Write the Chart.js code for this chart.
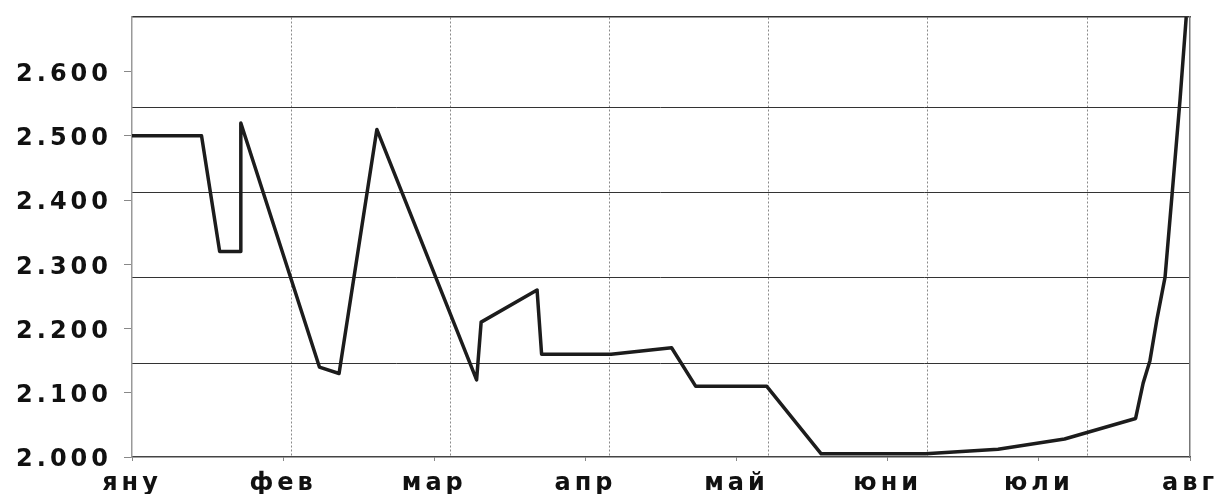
<!DOCTYPE html>
<html>
<head>
<meta charset="utf-8">
<script src="https://cdn.jsdelivr.net/npm/chart.js@4"></script>
<style>
    html, body { margin: 0; padding: 0; background: #fff; }
    #wrap { width: 1229px; height: 494px; position: relative; }
</style>
</head>
<body>
<div id="wrap"><canvas id="priceChart"></canvas></div>
<script>
// months on the x axis (0 = яну ... 7 = авг)
const monthLabels = ['яну', 'фев', 'мар', 'апр', 'май', 'юни', 'юли', 'авг'];
const yTickValues = [2.0, 2.1, 2.2, 2.3, 2.4, 2.5, 2.6];
const yTickLabels = ['2.000', '2.100', '2.200', '2.300', '2.400', '2.500', '2.600'];

// series, x in months from start of January
const pointMonths = [0, 0.46, 0.58, 0.72, 0.72, 1.24, 1.37, 1.62, 2.28, 2.31, 2.68, 2.71, 3.17, 3.57,
    3.73, 4.20, 4.56, 5.25, 5.73, 6.17, 6.64, 6.69, 6.735, 6.78, 6.835, 6.888, 6.934, 6.975];
const pointValues = [2.50, 2.50, 2.32, 2.32, 2.52, 2.14, 2.13, 2.51, 2.12, 2.21, 2.26, 2.16, 2.16, 2.17,
    2.11, 2.11, 2.005, 2.005, 2.012, 2.028, 2.06, 2.115, 2.15, 2.213, 2.28, 2.427, 2.556, 2.685];

// the scanned grid does not line up with the ticks, so it gets its own axes
const gridCols = [1, 2, 3, 4, 5, 6];
const gridRows = [1, 2, 3, 4];

const toTicks = arr => arr.map(v => ({ value: v }));

const spacing = {
    id: 'spacing',
    beforeDraw(chart) {
        chart.ctx.letterSpacing = '4px';
    }
};

const ctx = document.getElementById('priceChart').getContext('2d');

const priceChart = new Chart(ctx, {
    type: 'line',
    data: {
        datasets: [{
            data: pointMonths.map((m, i) => ({ x: m, y: pointValues[i] })),
            borderColor: '#1c1c1c',
            borderWidth: 3.5,
            borderJoinStyle: 'round',
            tension: 0,
            pointRadius: 0,
            xAxisID: 'x',
            yAxisID: 'y'
        }]
    },
    options: {
        responsive: true,
        maintainAspectRatio: false,
        animation: false,
        layout: { padding: { top: 17, right: 39, left: 0, bottom: 0 } },
        plugins: {
            legend: { display: false },
            tooltip: { enabled: false }
        },
        scales: {
            x: {
                type: 'linear',
                position: 'bottom',
                min: 0,
                max: 7,
                afterBuildTicks: s => { s.ticks = toTicks(monthLabels.map((l, i) => i)); },
                afterFit: s => { s.height = 37; s.paddingLeft = 0; s.paddingRight = 0; },
                grid: { drawOnChartArea: false, tickLength: 4, color: '#888' },
                border: { color: '#444', width: 1.5 },
                ticks: {
                    autoSkip: false,
                    maxRotation: 0,
                    padding: 8,
                    color: '#111',
                    font: { family: 'DejaVu Sans', size: 24, weight: 'bold' },
                    callback: v => monthLabels[v]
                }
            },
            x2: {
                type: 'linear',
                position: 'top',
                min: 0,
                max: 6.646,
                afterBuildTicks: s => { s.ticks = toTicks(gridCols); },
                afterFit: s => { s.height = 0; s.paddingLeft = 0; s.paddingRight = 0; },
                grid: { color: '#8a8a8a', lineWidth: 1, drawTicks: false },
                border: { color: '#333', width: 1.5, dash: [2, 2] },
                ticks: { display: false }
            },
            y: {
                type: 'linear',
                position: 'left',
                min: 2.0,
                max: 2.685,
                afterBuildTicks: s => { s.ticks = toTicks(yTickValues); },
                afterFit: s => { s.width = 132; s.paddingTop = 0; s.paddingBottom = 0; },
                grid: { drawOnChartArea: false, tickLength: 8, color: '#888' },
                border: { color: '#999', width: 1.5 },
                ticks: {
                    padding: 12,
                    labelOffset: 3,
                    color: '#111',
                    font: { family: 'DejaVu Sans', size: 24, weight: 'bold' },
                    callback: (v, i) => yTickLabels[i]
                }
            },
            y2: {
                type: 'linear',
                position: 'right',
                min: -0.1,
                max: 5.056,
                afterBuildTicks: s => { s.ticks = toTicks(gridRows); },
                afterFit: s => { s.width = 0; s.paddingTop = 0; s.paddingBottom = 0; },
                grid: { color: '#333', lineWidth: 1, drawTicks: false },
                border: { color: '#777', width: 1.5 },
                ticks: { display: false }
            }
        }
    },
    plugins: [spacing]
});
</script>
</body>
</html>
